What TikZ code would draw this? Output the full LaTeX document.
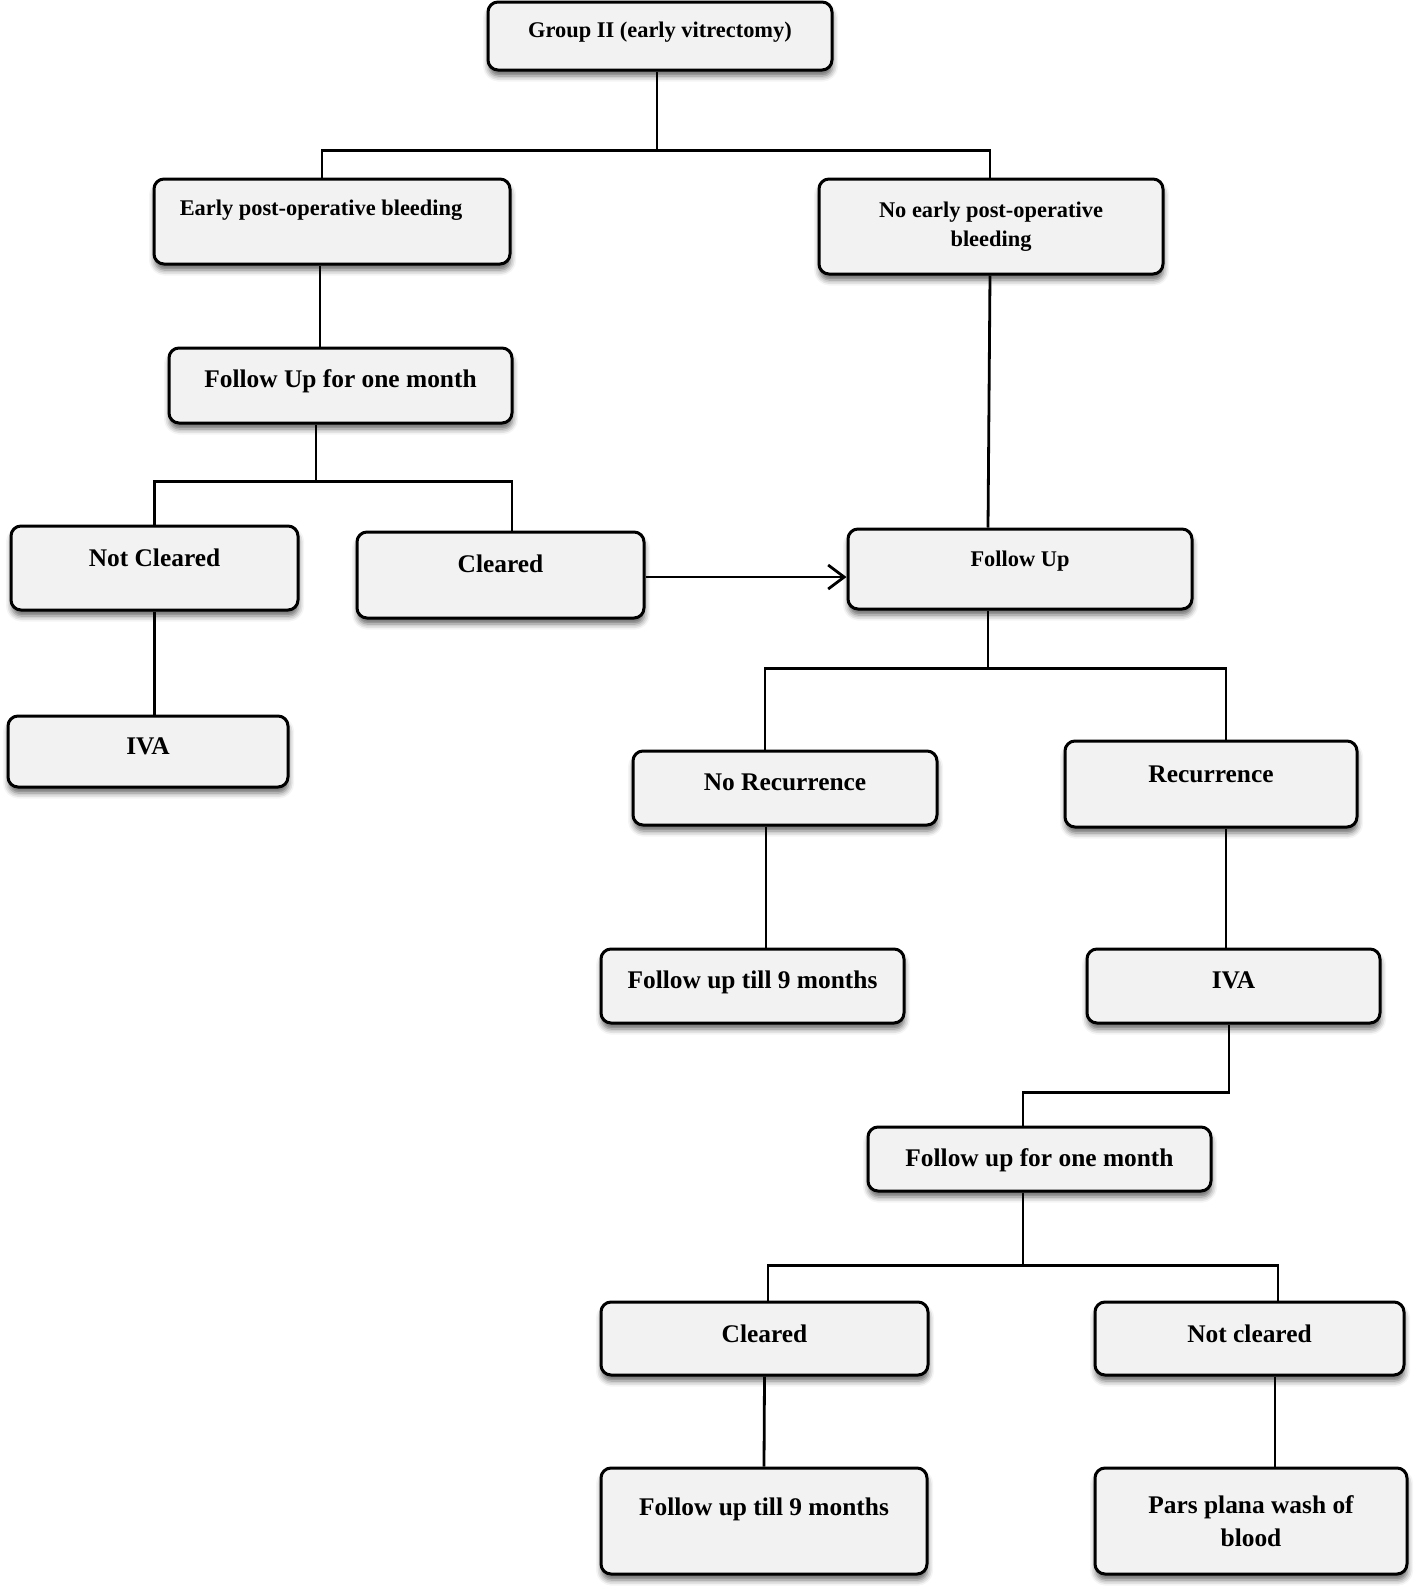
\documentclass[tikz,border=0pt]{standalone}
\usepackage{fontspec}
\setmainfont{Liberation Serif}
\usetikzlibrary{calc,arrows.meta,shadows.blur}
\definecolor{boxfill}{HTML}{F2F2F2}
\begin{document}
\begin{tikzpicture}[x=0.5pt,y=-0.5pt,
  box/.style={draw, line width=1.5pt, rounded corners=5pt, fill=boxfill,
    blur shadow={shadow xshift=0.3pt, shadow yshift=-3pt, shadow blur radius=2.8pt, shadow opacity=60},
    align=center, inner sep=0pt},
  sz/.style 2 args={minimum width=#1pt, minimum height=#2pt},
  bigf/.style={font=\bfseries\fontsize{12.7}{16.5}\selectfont},
  smallf/.style={font=\bfseries\fontsize{11.2}{14.5}\selectfont},
  B/.style={bigf, text height=8.6pt, text depth=#1pt+0.2pt},
  S/.style={smallf, text height=7.6pt, text depth=#1pt+0.2pt},
  link/.style={line width=1.4pt},
  arr/.style={line width=1.4pt, -{Straight Barb[length=8pt,width=12pt,line width=1.4pt]}}]
\useasboundingbox (0,0) rectangle (1418,1596);

% nodes
\node[box, sz={172}{34}, S=6] (g) at (660,36) {Group II (early vitrectomy)};
\node[box, sz={178}{42.5}, S=13.5] (e) at (332,221.5) {Early post-operative bleeding\hspace*{11pt}};
\node[box, sz={172}{47.5}, smallf] (ne) at (991,226.5) {No early post-operative\\bleeding};
\node[box, sz={171.5}{37.5}, B=6.5] (f1) at (340.5,385.5) {Follow Up for one month};
\node[box, sz={143.5}{42}, B=10] (nc) at (154.5,568) {Not Cleared};
\node[box, sz={143.5}{43}, B=11] (cl) at (500.5,575) {Cleared};
\node[box, sz={140}{35.5}, B=5.5] (iva1) at (148,751.5) {IVA};
\node[box, sz={172}{40}, S=10] (fu) at (1020,569) {Follow Up};
\node[box, sz={152}{37}, B=6] (nr) at (785,788) {No Recurrence};
\node[box, sz={146}{43}, B=10] (rec) at (1211,784) {Recurrence};
\node[box, sz={151.5}{37}, B=6] (ft1) at (752.5,986) {Follow up till 9 months};
\node[box, sz={146.5}{37}, B=6] (iva2) at (1233.5,986) {IVA};
\node[box, sz={171.5}{32}, B=1] (f2) at (1039.5,1159) {Follow up for one month};
\node[box, sz={163.5}{36.5}, B=4.5] (cl2) at (764.5,1338.5) {Cleared};
\node[box, sz={154.5}{36.5}, B=4.5] (ncl) at (1249.5,1338.5) {Not cleared};
\node[box, sz={163}{53}, B=14] (ft2) at (764,1521) {Follow up till 9 months};
\node[box, sz={156}{53}, bigf] (pp) at (1251,1521) {Pars plana wash of\\blood};

% connectors
\draw[link] ($(g.south)+(-3,0)$) -- ++(0,79) -| ($(e.north)+(-10,0)$);
\draw[link] ($(g.south)+(-3,79)$) -| ($(ne.north)+(-1,0)$);
\draw[link] ($(e.south)+(-12,0)$) -- ($(f1.north)+(-20.5,0)$);
\draw[link] ($(f1.south)+(-24.5,0)$) -- ++(0,57) -| (nc.north);
\draw[link] ($(f1.south)+(-24.5,57)$) -| ($(cl.north)+(11.5,0)$);
\draw[link] (nc.south) -- (nc.south |- iva1.north);
\draw[arr] ($(cl.east)+(0,2)$) -- ($(cl.east -| fu.west)+(0,2)$);
\draw[link] ($(ne.south)+(-1,0)$) -- ($(fu.north)+(-32,0)$);
\draw[link] ($(fu.south)+(-32,0)$) -- ++(0,58) -| ($(nr.north)+(-20,0)$);
\draw[link] ($(fu.south)+(-32,58)$) -| ($(rec.north)+(15,0)$);
\draw[link] ($(nr.south)+(-19,0)$) -- ($(ft1.north)+(13.5,0)$);
\draw[link] ($(rec.south)+(15,0)$) -- ($(iva2.north)+(-7.5,0)$);
\draw[link] ($(iva2.south)+(-4.5,0)$) -- ++(0,68) -| ($(f2.north)+(-16.5,0)$);
\draw[link] ($(f2.south)+(-16.5,0)$) -- ++(0,73) -| ($(cl2.north)+(3.5,0)$);
\draw[link] ($(f2.south)+(-16.5,73)$) -| ($(ncl.north)+(28.5,0)$);
\draw[link] (cl2.south) -- (ft2.north);
\draw[link] ($(ncl.south)+(25.5,0)$) -- ($(pp.north)+(24,0)$);
\end{tikzpicture}
\end{document}
